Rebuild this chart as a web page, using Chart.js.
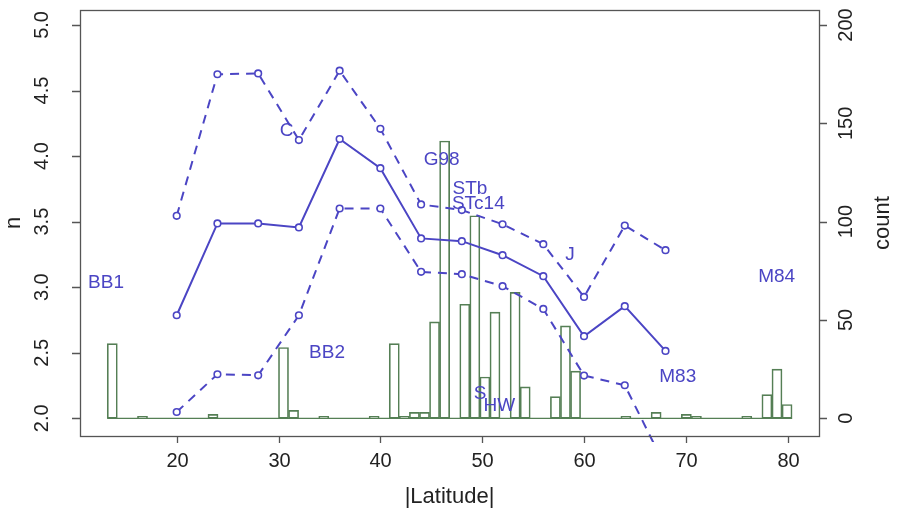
<!DOCTYPE html>
<html>
<head>
<meta charset="utf-8">
<script src="https://cdn.jsdelivr.net/npm/chart.js@4.4.0/dist/chart.umd.min.js"></script>
<style>
  html,body{margin:0;padding:0;background:#fff}
  #c{display:block}
</style>
</head>
<body>
<canvas id="c" width="898" height="513"></canvas>
<script>
/* n vs |Latitude| (3 curves) + histogram of counts on the right axis */
const latPts  = [20, 24, 28, 32, 36, 40, 44, 48, 52, 56, 60, 64, 68];
const nUpper  = [3.544, 4.624, 4.630, 4.122, 4.651, 4.208, 3.631, 3.588, 3.480, 3.328, 2.926, 3.470, 3.282];
const nMid    = [2.786, 3.486, 3.486, 3.456, 4.130, 3.908, 3.372, 3.351, 3.244, 3.084, 2.626, 2.855, 2.514];
const nLower  = [2.048, 2.336, 2.328, 2.786, 3.600, 3.600, 3.117, 3.099, 3.008, 2.834, 2.326, 2.252, 1.630];

/* histogram: 68 bins from binStart, binWidth wide */
const binStart = 13.18, binWidth = 0.989;
const counts = [
  38, 0, 0, 1, 0, 0, 0, 0, 0, 0,
   2, 0, 0, 0, 0, 0, 0, 36, 4, 0,
   0, 1, 0, 0, 0, 0, 1, 0, 38, 1,
   3, 3, 49, 141, 0, 58, 103, 21, 54, 0,
  64, 16, 0, 0, 11, 47, 24, 0, 0, 0,
   0, 1, 0, 0, 3, 0, 0, 2, 1, 0,
   0, 0, 0, 1, 0, 12, 25, 7
];

const xTicks     = [20, 30, 40, 50, 60, 70, 80];
const nTicks     = ['2.0', '2.5', '3.0', '3.5', '4.0', '4.5', '5.0'];
const countTicks = [0, 50, 100, 150, 200];

/* model labels placed in data coords (|lat|, n) */
const notes   = ['BB1', 'BB2', 'C', 'G98', 'STb', 'STc14', 'J', 'M84', 'M83', 'S', 'HW'];
const noteLat = [13.06, 34.76, 30.80, 46.02, 48.80, 49.62, 58.62, 78.92, 69.20, 49.79, 51.68];
const noteN   = [3.032, 2.498, 4.194, 3.968, 3.748, 3.640, 3.246, 3.080, 2.317, 2.190, 2.094];

const BLUE = '#4b45c4', GREEN = '#557f55', AXIS = '#555', INK = '#222';
const FONT = '"Liberation Sans", Arial, Helvetica, sans-serif';

const pts = ys => latPts.map((x, i) => ({ x, y: ys[i] }));
const bins = counts.map((c, i) => ({ x: binStart + (i + 0.5) * binWidth, y: c }));
const binEnd = binStart + counts.length * binWidth;

function curve(ys, dash){
  return { type:'line', yAxisID:'yN', data: pts(ys), order:1,
    borderColor: BLUE, borderWidth: 2, borderDash: dash, tension: 0,
    pointRadius: 3.3, pointBorderWidth: 1.6, pointBorderColor: BLUE,
    pointBackgroundColor: '#fff', clip: { left:0, top:0, right:0, bottom:6 } };
}

/* R-style box, ticks and axis titles drawn from the chart's own scales */
const rAxes = {
  id: 'rAxes',
  afterDatasetsDraw(chart){
    const { ctx, scales: { x, yN } } = chart;
    ctx.save();
    ctx.fillStyle = BLUE;
    ctx.font = '19px ' + FONT;
    ctx.textAlign = 'center'; ctx.textBaseline = 'middle';
    notes.forEach((t, i) => ctx.fillText(t, x.getPixelForValue(noteLat[i]), yN.getPixelForValue(noteN[i])));
    ctx.restore();
  },
  afterDraw(chart){
    const { ctx, chartArea: a, scales: { x, yN, yC } } = chart;
    ctx.save();
    ctx.strokeStyle = AXIS; ctx.lineWidth = 1.3;
    ctx.strokeRect(a.left + .5, a.top + .5, a.right - a.left, a.bottom - a.top);

    ctx.fillStyle = INK;
    ctx.font = '20px ' + FONT;
    ctx.textAlign = 'center'; ctx.textBaseline = 'middle';
    ctx.beginPath();
    xTicks.forEach(v => {
      const px = Math.round(x.getPixelForValue(v)) + .5;
      ctx.moveTo(px, a.bottom); ctx.lineTo(px, a.bottom + 7);
      ctx.fillText(String(v), px, 461);
    });
    nTicks.forEach(v => {
      const py = Math.round(yN.getPixelForValue(+v)) + .5;
      ctx.moveTo(a.left, py); ctx.lineTo(a.left - 8, py);
    });
    countTicks.forEach(v => {
      const py = Math.round(yC.getPixelForValue(v)) + .5;
      ctx.moveTo(a.right, py); ctx.lineTo(a.right + 8, py);
    });
    ctx.stroke();

    const vtext = (t, cx, cy) => {
      ctx.save(); ctx.translate(cx, cy); ctx.rotate(-Math.PI / 2);
      ctx.fillText(t, 0, 0); ctx.restore();
    };
    nTicks.forEach(v => vtext(v, 42, yN.getPixelForValue(+v)));
    countTicks.forEach(v => vtext(String(v), 846, yC.getPixelForValue(v)));

    ctx.font = '22px ' + FONT;
    ctx.fillText('|Latitude|', (a.left + a.right) / 2, 497);
    vtext('n', 14, (a.top + a.bottom) / 2);
    vtext('count', 883, (a.top + a.bottom) / 2);
    ctx.restore();
  }
};

new Chart(document.getElementById('c'), {
  type: 'bar',
  data: {
    datasets: [
      curve(nUpper, [9, 7]),
      curve(nMid, []),
      curve(nLower, [9, 7]),
      { type:'line', yAxisID:'yC', order:4, data: [{ x: binStart, y: 0 }, { x: binEnd, y: 0 }],
        borderColor: GREEN, borderWidth: 1.3, pointRadius: 0 },
      { type:'bar', yAxisID:'yC', order:5, data: bins,
        backgroundColor: 'rgba(0,0,0,0)', borderColor: GREEN, borderWidth: 1,
        borderSkipped: false, barPercentage: 1, categoryPercentage: 1 }
    ]
  },
  options: {
    responsive: false, animation: false, devicePixelRatio: 1,
    layout: { padding: { left: 80, right: 79, top: 10, bottom: 77 } },
    plugins: { legend: { display: false }, tooltip: { enabled: false } },
    scales: {
      x:  { type:'linear', display:false, offset:false, min: 10.504, max: 83.074 },
      yN: { type:'linear', display:false, position:'left',  min: 1.865, max: 5.114 },
      yC: { type:'linear', display:false, position:'right', min: -9.0,  max: 207.63 }
    }
  },
  plugins: [rAxes]
});
</script>
</body>
</html>
